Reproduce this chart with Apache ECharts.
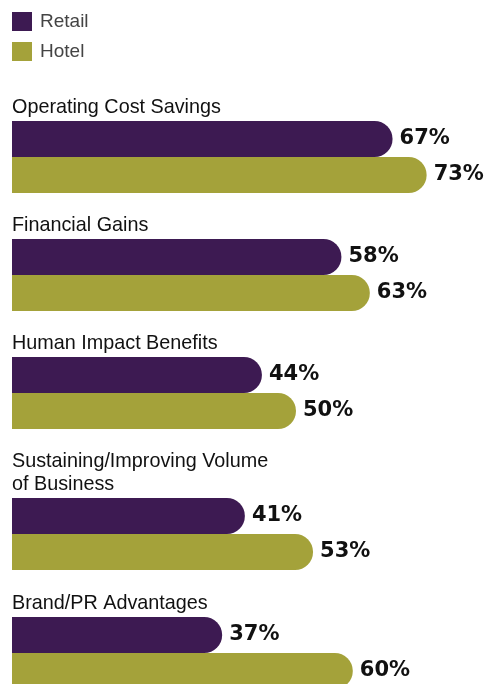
<!DOCTYPE html>
<html>
<head>
<meta charset="utf-8">
<style>
  html, body { margin: 0; padding: 0; background: #fff; }
  #chart { width: 487px; height: 684px; }
</style>
<script src="https://cdn.jsdelivr.net/npm/echarts@6/dist/echarts.min.js"></script>
</head>
<body>
<div id="chart"></div>
<script>
const categories = [
  "Operating Cost Savings",
  "Financial Gains",
  "Human Impact Benefits",
  "Sustaining/Improving Volume\nof Business",
  "Brand/PR Advantages"
]
const retail = [67, 58, 44, 41, 37]
const hotel = [73, 63, 50, 53, 60]

const purple = "#3d1a52"
const olive = "#a4a23a"

// layout: where each group of bars sits (the 4th label wraps onto two lines)
const barTops = [121, 239, 357, 498, 617]
const labelFont = "'Liberation Sans', Arial, sans-serif"

const grids = []
const xAxes = []
const yAxes = []
const titles = []
const series = []

categories.forEach((cat, i) => {
  const lines = cat.split("\n").length
  grids.push({ left: 12, width: 568, top: barTops[i], height: 72, outerBoundsMode: "none", containLabel: false })
  xAxes.push({ type: "value", gridIndex: i, min: 0, max: 100, show: false })
  yAxes.push({ type: "category", gridIndex: i, data: [cat], inverse: true, show: false })
  titles.push({
    text: cat,
    left: 7,
    top: barTops[i] - 30 - (lines - 1) * 23,
    textStyle: { fontFamily: labelFont, fontSize: 19.8, fontWeight: "normal", color: "#111", lineHeight: 23 }
  })
  const valLabel = {
    show: true,
    position: "right",
    distance: 7,
    formatter: "{c}%",
    fontFamily: "'DejaVu Sans', sans-serif",
    fontWeight: "bold",
    fontSize: 21,
    color: "#111"
  }
  series.push({
    name: "Retail",
    type: "bar",
    xAxisIndex: i,
    yAxisIndex: i,
    data: [retail[i]],
    barGap: "0%",
    barCategoryGap: "0%",
    itemStyle: { color: purple, borderRadius: [0, 18, 18, 0] },
    label: valLabel
  })
  series.push({
    name: "Hotel",
    type: "bar",
    xAxisIndex: i,
    yAxisIndex: i,
    data: [hotel[i]],
    barGap: "0%",
    barCategoryGap: "0%",
    itemStyle: { color: olive, borderRadius: [0, 18, 18, 0] },
    label: valLabel
  })
})

const chart = echarts.init(document.getElementById("chart"))
chart.setOption({
  animation: false,
  title: titles,
  legend: {
    data: ["Retail", "Hotel"],
    orient: "vertical",
    left: 12,
    top: 12,
    padding: 0,
    itemWidth: 20,
    itemHeight: 19,
    itemGap: 11,
    icon: "rect",
    selectedMode: false,
    textStyle: { fontFamily: labelFont, fontSize: 19, color: "#444", padding: [0, 0, 0, 3] }
  },
  grid: grids,
  xAxis: xAxes,
  yAxis: yAxes,
  series: series
})
</script>
</body>
</html>
